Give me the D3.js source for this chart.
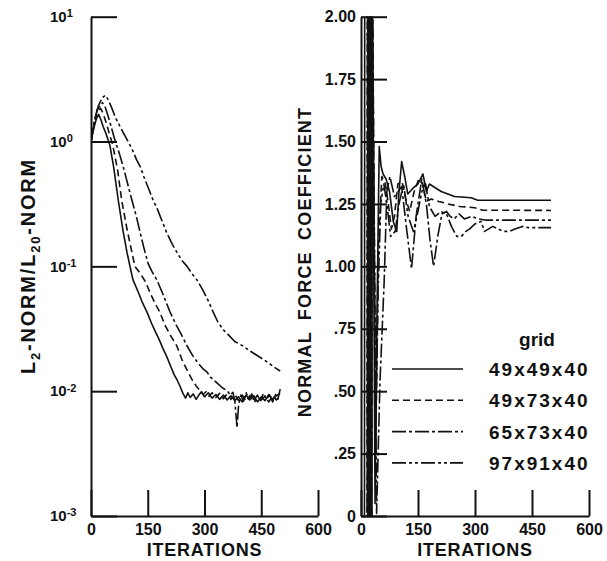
<!DOCTYPE html>
<html>
<head>
<meta charset="utf-8">
<script src="https://cdn.jsdelivr.net/npm/d3@7"></script>
<style>
  body { margin: 0; background: #fff; }
  svg { display: block; font-family: "Liberation Sans", Arial, sans-serif; }
</style>
</head>
<body>
<svg id="chart" width="607" height="561"></svg>
<script>
// grids, in legend order
const grid_names = ["49x49x40", "49x73x40", "65x73x40", "97x91x40"];

const iter_ticks = [0, 150, 300, 450, 600];
const norm_ticks = [1e-3, 1e-2, 1e-1, 1, 10];
const force_ticks = [0, 0.25, 0.5, 0.75, 1.0, 1.25, 1.5, 1.75, 2.0];
const force_tick_labels = ["0", ".25", ".50", ".75", "1.00", "1.25", "1.50", "1.75", "2.00"];

// L2-norm / L20-norm vs iterations  [iteration, ratio]
const norm_49x49x40 = [[0,1.0],[8,1.3],[15,1.55],[20,1.65],[26,1.5],[32,1.32],[40,1.15],[50,0.93],[60,0.62],[72,0.34],[85,0.19],[95,0.13],[103,0.1],[111,0.078],[125,0.062],[135,0.052],[148,0.043],[160,0.035],[170,0.03],[180,0.026],[190,0.022],[200,0.019],[210,0.016],[220,0.0135],[227,0.0124],[235,0.011],[243,0.0096],[250,0.0088],[256,0.0097],[262,0.0089],[270,0.0095],[278,0.0086],[285,0.0093],[292,0.0099],[300,0.009],[310,0.0097],[320,0.0088],[330,0.0094],[340,0.0086],[350,0.0093],[360,0.0085],[370,0.0092],[380,0.0084],[390,0.009],[400,0.0082],[410,0.0093],[420,0.0085],[430,0.0092],[440,0.0082],[450,0.009],[460,0.0084],[470,0.0094],[480,0.0086],[490,0.0092],[500,0.0096]];
const norm_49x73x40 = [[0,1.0],[8,1.35],[15,1.7],[25,1.85],[32,1.68],[40,1.42],[48,1.17],[57,0.95],[70,0.6],[81,0.34],[95,0.2],[108,0.13],[116,0.1],[130,0.088],[143,0.076],[160,0.058],[170,0.05],[182,0.043],[195,0.034],[210,0.028],[227,0.023],[240,0.018],[255,0.0145],[267,0.0124],[278,0.011],[288,0.0101],[296,0.0094],[304,0.0099],[312,0.0091],[320,0.0097],[330,0.0089],[340,0.0096],[350,0.0087],[360,0.0095],[370,0.0086],[380,0.0094],[390,0.0084],[400,0.0093],[410,0.0083],[420,0.0092],[430,0.0084],[440,0.0093],[450,0.0085],[460,0.0091],[470,0.0082],[480,0.0092],[490,0.0085],[500,0.0093]];
const norm_65x73x40 = [[0,1.0],[8,1.4],[16,1.8],[30,2.05],[38,1.87],[46,1.57],[55,1.26],[65,0.98],[75,0.8],[85,0.63],[96,0.47],[108,0.34],[120,0.25],[130,0.186],[140,0.14],[151,0.105],[162,0.09],[174,0.078],[190,0.06],[209,0.043],[225,0.034],[240,0.028],[254,0.023],[270,0.019],[285,0.0165],[297,0.015],[307,0.0142],[315,0.013],[323,0.0124],[335,0.0115],[348,0.0106],[360,0.0101],[368,0.0093],[375,0.0098],[380,0.0084],[386,0.0051],[390,0.0077],[396,0.0093],[403,0.0083],[410,0.0097],[418,0.0086],[425,0.0095],[432,0.0081],[440,0.0092],[448,0.0084],[456,0.0096],[464,0.0086],[472,0.0093],[480,0.0082],[488,0.0094],[494,0.0086],[500,0.0104]];
const norm_97x91x40 = [[0,1.0],[10,1.5],[20,1.95],[30,2.25],[38,2.35],[46,2.15],[55,1.85],[65,1.55],[75,1.35],[87,1.15],[98,1.0],[110,0.85],[120,0.72],[130,0.63],[140,0.52],[152,0.42],[164,0.34],[175,0.29],[188,0.23],[200,0.186],[215,0.15],[230,0.125],[242,0.11],[254,0.1],[266,0.088],[280,0.078],[295,0.065],[310,0.053],[323,0.043],[335,0.036],[350,0.031],[367,0.0275],[380,0.025],[402,0.023],[420,0.021],[437,0.0195],[455,0.018],[470,0.0168],[485,0.0155],[500,0.0145]];

// normal force coefficient vs iterations  [iteration, CN]
const cn_49x49x40 = [[0,0],[9,-0.5],[10,3],[18,3],[19,-1],[20.5,3],[22,-1],[23.5,3],[25,-1],[26.5,3],[28,-1],[29.5,2.2],[37,0.05],[42,0.8],[48,1.48],[53,1.4],[58,1.37],[66,1.35],[75,1.3],[85,1.18],[94,1.14],[100,1.3],[107,1.42],[115,1.36],[123,1.29],[135,1.31],[150,1.33],[163,1.37],[172,1.3],[180,1.33],[190,1.32],[211,1.3],[246,1.28],[290,1.275],[307,1.265],[500,1.265]];
const cn_49x73x40 = [[0,0],[16,-0.5],[17,3],[18.5,-1],[20,3],[21.5,-1],[23,3],[24.5,-1],[26,3],[27.5,-1],[29,3],[30.5,2.1],[39,0.3],[46,1.1],[55,1.36],[64,1.33],[72,1.25],[80,1.15],[88,1.2],[97,1.33],[108,1.34],[118,1.27],[128,1.22],[140,1.3],[152,1.35],[162,1.33],[172,1.26],[185,1.27],[205,1.26],[229,1.25],[260,1.24],[299,1.235],[320,1.225],[500,1.224]];
const cn_65x73x40 = [[0,0],[16,-0.5],[17.5,3],[19,-1],[20.5,3],[22,-1],[23.5,3],[25,-1],[26.5,3],[28,-1],[29.5,3],[30,2.1],[41,0.01],[50,0.54],[61,0.94],[68,1.3],[76,1.36],[88,1.28],[98,1.3],[107,1.32],[120,1.15],[133,0.99],[145,1.2],[160,1.35],[172,1.25],[182,1.1],[191,1.0],[202,1.12],[213,1.21],[225,1.22],[235,1.2],[245,1.19],[258,1.21],[272,1.19],[290,1.2],[310,1.19],[330,1.185],[500,1.185]];
const cn_97x91x40 = [[0,0],[17,-0.5],[18,3],[19.5,-1],[21,3],[22.5,-1],[24,3],[25.5,-1],[27,3],[29,2.3],[38,0.25],[45,0.9],[52,1.25],[60,1.33],[68,1.25],[78,1.12],[90,1.14],[100,1.25],[112,1.33],[124,1.2],[138,1.14],[150,1.22],[160,1.3],[170,1.33],[180,1.24],[195,1.2],[210,1.22],[225,1.21],[238,1.16],[252,1.12],[264,1.12],[276,1.14],[286,1.15],[300,1.17],[316,1.18],[325,1.14],[336,1.15],[347,1.16],[360,1.15],[375,1.14],[390,1.14],[405,1.15],[425,1.16],[440,1.155],[500,1.155]];

const norm_series = [norm_49x49x40, norm_49x73x40, norm_65x73x40, norm_97x91x40];
const cn_series = [cn_49x49x40, cn_49x73x40, cn_65x73x40, cn_97x91x40];
const dashes = [null, "7,4", "14,3,3,3", "14,3,3,3,3,3"];

const LAYOUT = {
  top: 16.7,
  bottom: 516,
  left: [91, 318],
  right: [361, 589],
  tick: 26
};
const INK = "#111";

const svg = d3.select("#chart");

const x_left = d3.scaleLinear().domain([0, 600]).range(LAYOUT.left);
const y_left = d3.scaleLog().domain([1e-3, 10]).range([LAYOUT.bottom, LAYOUT.top]);
const x_right = d3.scaleLinear().domain([0, 600]).range(LAYOUT.right);
const y_right = d3.scaleLinear().domain([0, 2]).range([LAYOUT.bottom, LAYOUT.top]);

function style_axis(g) {
  g.attr("font-family", null).attr("font-size", null);
  g.select(".domain").attr("stroke", INK).attr("stroke-width", 2);
  g.selectAll(".tick line").attr("stroke", INK).attr("stroke-width", 2);
  g.selectAll(".tick text").attr("fill", INK).attr("font-size", 16).attr("font-weight", "bold");
}

// x axes
[x_left, x_right].forEach(x => {
  svg.append("g")
    .attr("transform", `translate(0,${LAYOUT.bottom})`)
    .call(d3.axisBottom(x).tickValues(iter_ticks).tickSize(-LAYOUT.tick).tickSizeOuter(0).tickPadding(8))
    .call(style_axis);
});

// left y axis (log)
const gl = svg.append("g")
  .attr("transform", `translate(${LAYOUT.left[0]},0)`)
  .call(d3.axisLeft(y_left).tickValues(norm_ticks).tickFormat("").tickSize(-LAYOUT.tick).tickSizeOuter(0))
  .call(style_axis);
gl.selectAll(".tick text").each(function(d) {
  const t = d3.select(this).attr("x", -41).attr("text-anchor", "start").attr("font-size", 15);
  t.append("tspan").text("10");
  t.append("tspan").attr("dy", "-0.45em").attr("font-size", 11).text(String(Math.round(Math.log10(d))));
});

// right y axis
svg.append("g")
  .attr("transform", `translate(${LAYOUT.right[0]},0)`)
  .call(d3.axisLeft(y_right).tickValues(force_ticks).tickFormat((d, i) => force_tick_labels[i]).tickSize(-LAYOUT.tick).tickSizeOuter(0).tickPadding(5))
  .call(style_axis);

// axis titles
[LAYOUT.left, LAYOUT.right].forEach(r => {
  svg.append("text")
    .attr("x", (r[0] + r[1]) / 2).attr("y", 556)
    .attr("text-anchor", "middle").attr("font-size", 18).attr("font-weight", "bold").attr("fill", INK)
    .attr("letter-spacing", 0.8)
    .text("ITERATIONS");
});

const ylab = svg.append("text")
  .attr("transform", "translate(35,266) rotate(-90)")
  .attr("text-anchor", "middle").attr("font-size", 20).attr("font-weight", "bold").attr("fill", INK)
  .attr("letter-spacing", 1.8);
ylab.append("tspan").text("L");
ylab.append("tspan").attr("dy", 5).attr("font-size", 13).text("2");
ylab.append("tspan").attr("dy", -5).text("-NORM/L");
ylab.append("tspan").attr("dy", 5).attr("font-size", 13).text("20");
ylab.append("tspan").attr("dy", -5).text("-NORM");

svg.append("text")
  .attr("transform", "translate(311,262) rotate(-90)")
  .attr("text-anchor", "middle").attr("font-size", 18).attr("font-weight", "bold").attr("fill", INK)
  .attr("letter-spacing", 1.2).attr("word-spacing", 5)
  .text("NORMAL FORCE COEFFICIENT");

// clips
const defs = svg.append("defs");
defs.append("clipPath").attr("id", "clip-left").append("rect")
  .attr("x", LAYOUT.left[0]).attr("y", LAYOUT.top)
  .attr("width", LAYOUT.left[1] - LAYOUT.left[0]).attr("height", LAYOUT.bottom - LAYOUT.top);
defs.append("clipPath").attr("id", "clip-right").append("rect")
  .attr("x", LAYOUT.right[0]).attr("y", LAYOUT.top)
  .attr("width", LAYOUT.right[1] - LAYOUT.right[0]).attr("height", LAYOUT.bottom - LAYOUT.top);

function draw_curves(series, x, y, clip) {
  const line = d3.line().x(d => x(d[0])).y(d => y(d[1]));
  svg.append("g").attr("clip-path", `url(#${clip})`)
    .selectAll("path")
    .data(series)
    .join("path")
    .attr("d", line)
    .attr("fill", "none")
    .attr("stroke", INK)
    .attr("stroke-width", 1.6)
    .attr("stroke-linejoin", "round")
    .attr("stroke-dasharray", (d, i) => dashes[i]);
}
draw_curves(norm_series, x_left, y_left, "clip-left");
draw_curves(cn_series, x_right, y_right, "clip-right");

// legend
const legend = svg.append("g");
legend.append("text")
  .attr("x", 537).attr("y", 346)
  .attr("text-anchor", "middle").attr("font-size", 19).attr("font-weight", "bold").attr("fill", INK)
  .text("grid");
const rows = legend.selectAll(".row").data(grid_names).join("g")
  .attr("transform", (d, i) => `translate(0,${369 + i * 31.3})`);
rows.append("line")
  .attr("x1", 392).attr("x2", 463)
  .attr("stroke", INK).attr("stroke-width", 1.6)
  .attr("stroke-dasharray", (d, i) => dashes[i]);
rows.append("text")
  .attr("x", 489).attr("y", 7)
  .attr("font-size", 19).attr("font-weight", "bold").attr("fill", INK).attr("letter-spacing", 2)
  .text(d => d);
</script>
</body>
</html>
